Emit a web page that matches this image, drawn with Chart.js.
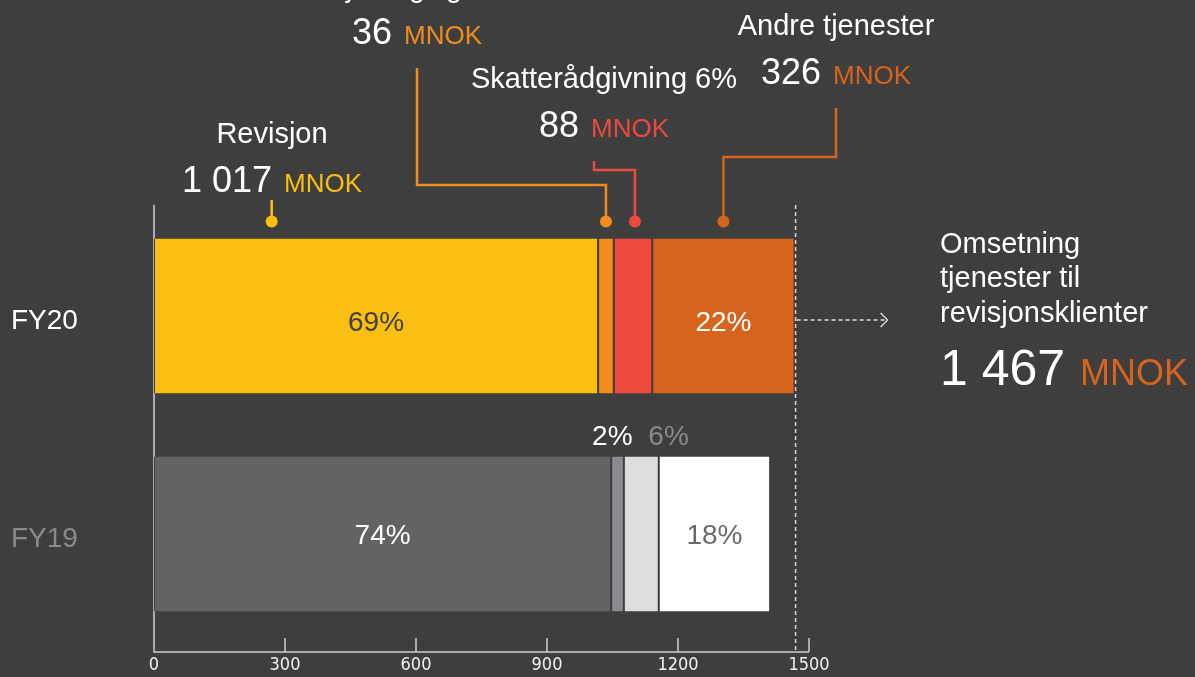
<!DOCTYPE html>
<html lang="no">
<head>
  <meta charset="UTF-8">
  <title>Omsetning tjenester til revisjonsklienter</title>
  <style>
    html, body { margin: 0; padding: 0; background: #3e3e3e; }
    #ramme { width: 1195px; height: 677px; position: relative; }
  </style>
</head>
<body>
  <div id="ramme"><canvas id="grafico"></canvas></div>

  <script src="https://cdn.jsdelivr.net/npm/chart.js"></script>
  <script>
    // Data (MNOK)
    const kategorier = ['FY20', 'FY19'];
    const tjenester = ['Revisjon', 'Attestasjon', 'Skatterådgivning', 'Andre tjenester'];
    const revisjon = [1017, 1047];
    const attestasjon = [36, 29];
    const skatt = [88, 80];
    const andre = [326, 255];
    const andelerFY20 = ['69%', '', '', '22%'];
    const andelerFY19 = ['74%', '2%', '6%', '18%'];
    const akseTicks = [0, 300, 600, 900, 1200, 1500];
    const totalFY20 = '1 467';

    const fargerFY20 = ['#fbbe13', '#f18d1c', '#ec4a3c', '#d6641c'];
    const fargerFY19 = ['#636365', '#8a8b8f', '#dcdddf', '#ffffff'];
    const tekstFY20 = ['#404040', '#ffffff', '#ffffff', '#ffffff'];
    const tekstFY19 = ['#ffffff', '#ffffff', '#8a8a8a', '#6a6a6a'];
    const bakgrunn = '#3e3e3e';
    const FONT = '"Liberation Sans", Arial, Helvetica, sans-serif';
    const SMAL = '"DejaVu Sans Condensed", "Liberation Sans Narrow", "Roboto Condensed", sans-serif';

    const verdier = [revisjon, attestasjon, skatt, andre];

    // annoteringer over FY20-stolpen
    const merknader = [
      { tittel: 'Revisjon', tall: '1 017', ds: 0, anker: 0.265, tx: 272, tittelY: 143, tallY: 192, farge: fargerFY20[0] },
      { tittel: 'Attestasjon og lignende 2%', tall: '36', ds: 1, anker: 0.5, tx: 417, tittelY: -3, tallY: 44, farge: fargerFY20[1], knekk: 185 },
      { tittel: 'Skatterådgivning 6%', tall: '88', ds: 2, anker: 0.55, tx: 604, tittelY: 88, tallY: 137, farge: fargerFY20[2], knekk: 170, startX: 594 },
      { tittel: 'Andre tjenester', tall: '326', ds: 3, anker: 0.5, tx: 836, tittelY: 35, tallY: 84, farge: fargerFY20[3], knekk: 157 }
    ];

    function skriv(ctx, str, x, y, font, farge, align = 'center', baseline = 'alphabetic') {
      ctx.font = font;
      ctx.fillStyle = farge;
      ctx.textAlign = align;
      ctx.textBaseline = baseline;
      ctx.fillText(str, x, y);
    }

    // tall + MNOK på samme grunnlinje
    function tallMedEnhet(ctx, tall, farge, x, y, stor, liten, gap, align) {
      ctx.font = `${stor}px ${FONT}`;
      const b1 = ctx.measureText(tall).width;
      ctx.font = `${liten}px ${FONT}`;
      const b2 = ctx.measureText('MNOK').width;
      let start = align === 'left' ? x : x - (b1 + gap + b2) / 2;
      skriv(ctx, tall, start, y, `${stor}px ${FONT}`, '#ffffff', 'left');
      skriv(ctx, 'MNOK', start + b1 + gap, y, `${liten}px ${FONT}`, farge, 'left');
    }

    const akser = {
      id: 'akser',
      beforeDatasetsDraw(chart) {
        const { ctx, chartArea, scales: { x } } = chart;
        const x0 = x.getPixelForValue(0);
        const aksY = chartArea.bottom + 9;
        ctx.save();
        ctx.strokeStyle = '#cfcfcf';
        ctx.lineWidth = 1.5;
        ctx.beginPath();
        ctx.moveTo(x0, chartArea.top - 2);
        ctx.lineTo(x0, aksY);
        ctx.lineTo(x.getPixelForValue(akseTicks[akseTicks.length - 1]), aksY);
        akseTicks.slice(1).forEach(v => {
          const px = x.getPixelForValue(v);
          ctx.moveTo(px, aksY - 14);
          ctx.lineTo(px, aksY);
        });
        ctx.stroke();

        // stiplet linje ved total FY20
        const sum = verdier.reduce((s, d) => s + d[0], 0);
        const xs = x.getPixelForValue(sum) + 1;
        ctx.setLineDash([4, 3]);
        ctx.strokeStyle = '#d8d8d8';
        ctx.beginPath();
        ctx.moveTo(xs, chartArea.top - 2);
        ctx.lineTo(xs, aksY);
        ctx.stroke();
        ctx.restore();
      },
      afterDatasetsDraw(chart) {
        const { ctx, scales: { x } } = chart;
        ctx.save();

        // prosenter i stolpene
        tjenester.forEach((_, i) => {
          const meta = chart.getDatasetMeta(i);
          const a = meta.data[0].getProps(['x', 'y', 'base', 'height'], true);
          const b = meta.data[1].getProps(['x', 'y', 'base', 'height'], true);
          if (andelerFY20[i]) {
            skriv(ctx, andelerFY20[i], (a.x + a.base) / 2, a.y + 7, `28px ${FONT}`, tekstFY20[i], 'center', 'middle');
          }
          if (i === 0 || i === 3) {
            skriv(ctx, andelerFY19[i], (b.x + b.base) / 2, b.y + 2, `28px ${FONT}`, tekstFY19[i], 'center', 'middle');
          } else if (i === 1) {
            skriv(ctx, andelerFY19[i], (b.x + b.base) / 2 + 15, b.y - b.height / 2 - 12, `28px ${FONT}`, tekstFY19[i], 'right');
          } else {
            skriv(ctx, andelerFY19[i], (b.x + b.base) / 2 + 7, b.y - b.height / 2 - 12, `28px ${FONT}`, tekstFY19[i], 'left');
          }
        });

        // annoteringer med ledelinjer
        merknader.forEach(m => {
          const el = chart.getDatasetMeta(m.ds).data[0].getProps(['x', 'y', 'base', 'height'], true);
          const dotX = el.base + (el.x - el.base) * m.anker;
          const dotY = el.y - el.height / 2 - 17;
          skriv(ctx, m.tittel, m.tx, m.tittelY, `29px ${FONT}`, '#ffffff');
          tallMedEnhet(ctx, m.tall, m.farge, m.tx, m.tallY, 36, 26, 12, 'center');

          ctx.strokeStyle = m.farge;
          ctx.fillStyle = m.farge;
          ctx.lineWidth = 2.5;
          ctx.beginPath();
          if (m.knekk) {
            const sx = m.startX || m.tx;
            ctx.moveTo(sx, m.tallY + 24);
            ctx.lineTo(sx, m.knekk);
            ctx.lineTo(dotX, m.knekk);
            ctx.lineTo(dotX, dotY);
          } else {
            ctx.moveTo(dotX, m.tallY + 8);
            ctx.lineTo(dotX, dotY);
          }
          ctx.stroke();
          ctx.beginPath();
          ctx.arc(dotX, dotY, 6, 0, Math.PI * 2);
          ctx.fill();
        });

        // pil mot total
        const sum = verdier.reduce((s, d) => s + d[0], 0);
        const fy20 = chart.getDatasetMeta(0).data[0];
        const ax = x.getPixelForValue(sum) + 2;
        const ay = fy20.y + 4;
        ctx.strokeStyle = '#e0e0e0';
        ctx.lineWidth = 1.3;
        ctx.setLineDash([4, 3]);
        ctx.beginPath();
        ctx.moveTo(ax, ay);
        ctx.lineTo(ax + 90, ay);
        ctx.stroke();
        ctx.setLineDash([]);
        ctx.beginPath();
        ctx.moveTo(ax + 84, ay - 7);
        ctx.lineTo(ax + 91, ay);
        ctx.lineTo(ax + 84, ay + 7);
        ctx.stroke();

        // tekst til høyre
        skriv(ctx, 'Omsetning', 940, 253, `29px ${FONT}`, '#ffffff', 'left');
        skriv(ctx, 'tjenester til', 940, 287, `29px ${FONT}`, '#ffffff', 'left');
        skriv(ctx, 'revisjonsklienter', 940, 322, `29px ${FONT}`, '#ffffff', 'left');
        tallMedEnhet(ctx, totalFY20, fargerFY20[3], 940, 385, 50, 36, 15, 'left');

        ctx.restore();
      }
    };

    const lienzo = document.getElementById('grafico');
    const grafico = new Chart(lienzo, {
      type: 'bar',
      data: {
        labels: kategorier,
        datasets: tjenester.map((navn, i) => ({
          label: navn,
          data: verdier[i],
          backgroundColor: [fargerFY20[i], fargerFY19[i]],
          borderColor: bakgrunn,
          borderWidth: { left: 1, right: 1, top: 0, bottom: 0 },
          borderSkipped: false,
          barPercentage: 1,
          categoryPercentage: 155 / 218
        }))
      },
      options: {
        indexAxis: 'y',
        responsive: true,
        maintainAspectRatio: false,
        animation: false,
        layout: { padding: { left: 11, top: 207, right: 386, bottom: 0 } },
        plugins: {
          legend: { display: false },
          tooltip: { enabled: false }
        },
        scales: {
          x: {
            type: 'linear',
            stacked: true,
            min: 0,
            max: 1500,
            grid: { display: false, drawTicks: false },
            border: { display: false },
            ticks: {
              stepSize: 300,
              padding: 12,
              maxRotation: 0,
              color: '#f0f0f0',
              font: { family: SMAL, size: 18 },
              callback: v => String(v)
            },
            afterFit: s => { s.height = 34; }
          },
          y: {
            stacked: true,
            grid: { display: false, drawTicks: false },
            border: { display: false },
            ticks: {
              crossAlign: 'far',
              labelOffset: 5,
              color: c => (c.index === 0 ? '#ffffff' : '#8a8a8a'),
              font: { family: FONT, size: 28 }
            },
            afterFit: s => { s.width = 143; }
          }
        }
      },
      plugins: [akser]
    });
  </script>
</body>
</html>
